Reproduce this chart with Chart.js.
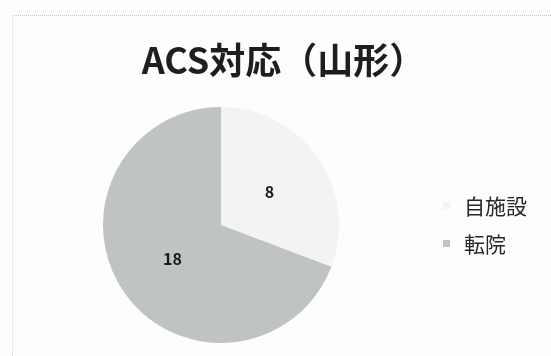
<!DOCTYPE html>
<html>
<head>
<meta charset="utf-8">
<script src="https://cdn.jsdelivr.net/npm/chart.js@4.4.1/dist/chart.umd.min.js"></script>
<style>
  html, body { margin: 0; padding: 0; background: #fdfdfd; }
  #wrap { position: relative; width: 551px; height: 356px; overflow: hidden;
          font-family: "Noto Sans CJK JP", "Noto Sans", sans-serif; }
  #frame { position: absolute; left: 12px; top: 15px; right: -2px; bottom: -2px;
           border-top: 1px dotted #c4c4c4; border-left: 1px dotted #d6d6d6; }
  #title { position: absolute; left: 0; width: 551px; top: 38px; text-align: center;
           box-sizing: border-box; padding-left: 16px;
           font-size: 36px; font-weight: 700; line-height: 40px; color: #1e1e1e; }
  #legend { position: absolute; left: 443px; top: 186px; }
  .item { display: flex; align-items: center; height: 38px; font-size: 21px; color: #262626; }
  .sw { width: 7px; height: 7px; margin-right: 14px; flex: none; }
  canvas { position: absolute; left: 0; top: 0; }
</style>
</head>
<body>
<div id="wrap">
  <div id="frame"></div>
  <canvas id="pie" width="551" height="356"></canvas>
  <div id="title"></div>
  <div id="legend"></div>
</div>
<script>
// ACS cases in Yamagata: treated in-house vs. transferred
const categories = ['自施設', '転院'];
const counts = [8, 18];
const sliceColors = ['#f3f3f3', '#bfc3c3'];
const titleText = 'ACS対応（山形）';

document.getElementById('title').textContent = titleText;

// Writes each slice's value at the middle of its arc
const sliceValues = {
  id: 'sliceValues',
  afterDatasetsDraw(chart) {
    const ctx = chart.ctx;
    const meta = chart.getDatasetMeta(0);
    ctx.save();
    ctx.font = 'bold 16px "Noto Sans CJK JP", sans-serif';
    ctx.fillStyle = '#1a1a1a';
    ctx.textAlign = 'center';
    ctx.textBaseline = 'middle';
    meta.data.forEach((arc, i) => {
      const p = arc.tooltipPosition();
      ctx.fillText(String(chart.data.datasets[0].data[i]), p.x, p.y);
    });
    ctx.restore();
  }
};

const chart = new Chart(document.getElementById('pie'), {
  type: 'pie',
  data: {
    labels: categories,
    datasets: [{
      data: counts,
      backgroundColor: sliceColors,
      borderWidth: 0
    }]
  },
  options: {
    responsive: false,
    animation: false,
    layout: { padding: { left: 103, right: 212, top: 107, bottom: 13 } },
    plugins: {
      legend: { display: false },
      title: { display: false },
      tooltip: { enabled: false }
    }
  },
  plugins: [sliceValues]
});

// Legend list built from the chart's own legend items
const legendEl = document.getElementById('legend');
chart.options.plugins.legend.labels.generateLabels(chart).forEach(item => {
  const row = document.createElement('div');
  row.className = 'item';
  const sw = document.createElement('span');
  sw.className = 'sw';
  sw.style.background = item.fillStyle;
  const txt = document.createElement('span');
  txt.textContent = item.text;
  row.appendChild(sw);
  row.appendChild(txt);
  legendEl.appendChild(row);
});
</script>
</body>
</html>
